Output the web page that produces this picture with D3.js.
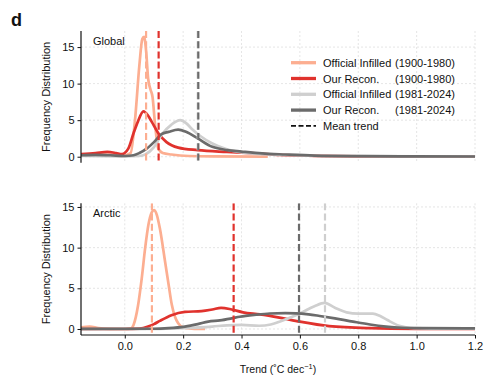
<!DOCTYPE html>
<html>
<head>
<meta charset="utf-8">
<script src="https://cdn.jsdelivr.net/npm/d3@7"></script>
<style>
  body { margin: 0; background: #fff; }
  text { font-family: "Liberation Sans", Arial, sans-serif; fill: #111; }
</style>
</head>
<body>
<div id="chart"></div>
<script>
// ---- data (trend in degC/decade, frequency) ----
const xTicks = [0.0, 0.2, 0.4, 0.6, 0.8, 1.0, 1.2];
const yTicks = [0, 5, 10, 15];

const seriesNames = ["Official Infilled", "Our Recon.", "Official Infilled", "Our Recon."];
const seriesPeriods = ["(1900-1980)", "(1900-1980)", "(1981-2024)", "(1981-2024)"];
const seriesColors = ["#fcae91", "#e0322d", "#cfcfcf", "#6b6b6b"];

// Global panel
const globalOfficialEarly = [[-0.15,0.3],[-0.1,0.3],[-0.05,0.25],[-0.01,0.1],[0.02,0.5],[0.035,5],[0.05,12.5],[0.06,16.1],[0.066,16.4],[0.073,14.5],[0.08,10.7],[0.088,9.2],[0.095,8.2],[0.104,4.3],[0.115,1.1],[0.13,0.5],[0.16,0.3],[0.22,0.1],[0.3,0.05],[0.49,0.02]];
const globalReconEarly = [[-0.15,0.35],[-0.1,0.5],[-0.06,0.65],[-0.03,0.5],[-0.01,0.35],[0.012,1.1],[0.03,3.2],[0.045,4.8],[0.064,6.2],[0.08,5.6],[0.092,4.8],[0.115,3.2],[0.143,2.0],[0.183,1.25],[0.25,0.9],[0.35,0.65],[0.45,0.45],[0.53,0.25],[0.65,0.12],[0.8,0.05],[1.2,0.02]];
const globalOfficialLate = [[-0.15,0.1],[0.0,0.05],[0.05,0.1],[0.07,0.3],[0.1,1.3],[0.126,3.0],[0.16,4.4],[0.19,5.0],[0.21,4.6],[0.23,3.8],[0.26,2.8],[0.3,1.8],[0.35,1.0],[0.4,0.6],[0.5,0.3],[0.7,0.1],[1.0,0.05],[1.2,0.03]];
const globalReconLate = [[-0.15,0.2],[-0.1,0.25],[-0.05,0.2],[0.0,0.1],[0.03,0.2],[0.05,0.5],[0.075,1.1],[0.1,2.0],[0.126,3.1],[0.15,3.4],[0.183,3.7],[0.21,3.4],[0.25,2.5],[0.3,1.35],[0.35,0.9],[0.4,0.7],[0.47,0.45],[0.55,0.3],[0.65,0.15],[0.8,0.08],[1.0,0.05],[1.2,0.03]];
const globalMeans = [0.073, 0.116, 0.25, 0.252];

// Arctic panel
const arcticOfficialEarly = [[-0.15,0.2],[-0.12,0.3],[-0.09,0.1],[-0.05,0.02],[0.0,0.0],[0.02,0.05],[0.03,0.5],[0.045,2.8],[0.058,6.2],[0.07,10.0],[0.081,12.8],[0.092,14.3],[0.1,14.6],[0.11,14.0],[0.12,12.4],[0.138,8.3],[0.15,5.5],[0.161,3.0],[0.172,1.5],[0.183,0.7],[0.2,0.2],[0.23,0.05],[0.275,0.0]];
const arcticReconEarly = [[-0.15,0.0],[0.0,0.0],[0.05,0.05],[0.08,0.3],[0.1,0.6],[0.12,1.0],[0.16,1.7],[0.206,2.1],[0.263,2.2],[0.3,2.4],[0.33,2.6],[0.366,2.4],[0.405,2.05],[0.463,1.8],[0.53,1.4],[0.6,0.9],[0.7,0.35],[0.84,0.1],[1.0,0.02],[1.2,0.0]];
const arcticOfficialLate = [[-0.15,0.0],[0.1,0.0],[0.2,0.1],[0.3,0.3],[0.35,0.45],[0.4,0.5],[0.46,0.4],[0.5,0.55],[0.53,0.9],[0.6,1.9],[0.65,2.8],[0.685,3.2],[0.72,2.6],[0.76,2.05],[0.8,1.9],[0.85,1.9],[0.875,1.6],[0.9,1.1],[0.94,0.4],[0.99,0.1],[1.05,0.05],[1.2,0.05]];
const arcticReconLate = [[-0.15,0.02],[0.1,0.03],[0.15,0.1],[0.206,0.3],[0.25,0.6],[0.286,0.9],[0.326,1.05],[0.366,1.3],[0.394,1.5],[0.45,1.75],[0.497,1.9],[0.55,1.95],[0.587,1.93],[0.63,1.8],[0.668,1.6],[0.72,1.3],[0.782,0.9],[0.84,0.55],[0.895,0.3],[0.95,0.15],[1.01,0.1],[1.2,0.08]];
const arcticMeans = [0.093, 0.373, 0.686, 0.597];

const panels = [
  { name: "Global", series: [globalOfficialEarly, globalReconEarly, globalOfficialLate, globalReconLate],
    means: globalMeans, yDomain: [-0.82, 17.2], top: 31, bottom: 162.7, xAxis: false },
  { name: "Arctic", series: [arcticOfficialEarly, arcticReconEarly, arcticOfficialLate, arcticReconLate],
    means: arcticMeans, yDomain: [-0.74, 15.45], top: 203.3, bottom: 335, xAxis: true }
];

// ---- layout ----
const W = 494, H = 388;
const left = 81, right = 475;
const fs = "11px";

const svg = d3.select("#chart").append("svg")
  .attr("width", W).attr("height", H);

const x = d3.scaleLinear().domain([-0.15, 1.2]).range([left, right]);

svg.append("text").attr("x", 11).attr("y", 26)
  .style("font-size", "18px").style("font-weight", "bold").text("d");

const line = d3.line().curve(d3.curveMonotoneX);

panels.forEach((p, pi) => {
  const y = d3.scaleLinear().domain(p.yDomain).range([p.bottom, p.top]);
  const g = svg.append("g");

  const clipId = "clip" + pi;
  svg.append("clipPath").attr("id", clipId).append("rect")
    .attr("x", left).attr("y", p.top).attr("width", right - left).attr("height", p.bottom - p.top);

  // grid
  g.selectAll(".vgrid").data(xTicks).enter().append("line")
    .attr("x1", d => x(d)).attr("x2", d => x(d))
    .attr("y1", p.top).attr("y2", p.bottom)
    .attr("stroke", "#dedede").attr("stroke-width", 0.8).attr("stroke-dasharray", "2,2");
  g.selectAll(".hgrid").data(yTicks).enter().append("line")
    .attr("x1", left).attr("x2", right)
    .attr("y1", d => y(d)).attr("y2", d => y(d))
    .attr("stroke", "#dedede").attr("stroke-width", 0.8).attr("stroke-dasharray", "2,2");

  // curves
  const cg = g.append("g").attr("clip-path", `url(#${clipId})`);
  p.series.forEach((s, i) => {
    cg.append("path")
      .attr("d", line(s.map(d => [x(d[0]), y(d[1])])))
      .attr("fill", "none")
      .attr("stroke", seriesColors[i])
      .attr("stroke-width", 2.7)
      .attr("stroke-linejoin", "round");
  });

  // mean trend lines (light grey first so dark grey sits on top)
  [2, 0, 1, 3].forEach(i => {
    cg.append("line")
      .attr("x1", x(p.means[i])).attr("x2", x(p.means[i]))
      .attr("y1", p.top).attr("y2", p.bottom)
      .attr("stroke", seriesColors[i]).attr("stroke-width", 2.2)
      .attr("stroke-dasharray", "7,3.2");
  });

  // y axis
  const yAxis = d3.axisLeft(y).tickValues(yTicks).tickSize(3.5).tickPadding(3).tickFormat(d3.format("d"));
  const ya = g.append("g").attr("transform", `translate(${left},0)`).call(yAxis);
  ya.select(".domain").attr("d", `M-0,${p.top}V${p.bottom}`).attr("stroke", "#111").attr("stroke-width", 1.2);
  ya.selectAll("text").style("font-size", fs).style("fill", "#111");
  ya.selectAll(".tick line").attr("stroke", "#111");

  if (p.xAxis) {
    const xAxis = d3.axisBottom(x).tickValues(xTicks).tickSize(3.5).tickPadding(4).tickFormat(d3.format(".1f"));
    const xa = g.append("g").attr("transform", `translate(0,${p.bottom})`).call(xAxis);
    xa.select(".domain").attr("d", `M${left},0H${right}`).attr("stroke", "#111").attr("stroke-width", 1.2);
    xa.selectAll("text").style("font-size", fs).style("fill", "#111");
    xa.selectAll(".tick line").attr("stroke", "#111");
  }

  // y label
  g.append("text")
    .attr("transform", `translate(50,${(p.top + p.bottom) / 2}) rotate(-90)`)
    .attr("text-anchor", "middle").style("font-size", fs)
    .text("Frequency Distribution");

  // panel title
  g.append("text").attr("x", 93).attr("y", p.top + 14)
    .style("font-size", fs).text(p.name);
});

// x axis title
const xt = svg.append("text").attr("x", (left + right) / 2).attr("y", 373)
  .attr("text-anchor", "middle").style("font-size", "10.5px");
xt.append("tspan").text("Trend (\u02DAC dec");
xt.append("tspan").attr("dy", -4).style("font-size", "7.5px").text("\u22121");
xt.append("tspan").attr("dy", 4).text(")");

// legend
const legend = svg.append("g").attr("transform", "translate(291,62.7)");
const rowH = 15.8;
seriesNames.forEach((name, i) => {
  const row = legend.append("g").attr("transform", `translate(0,${i * rowH})`);
  row.append("line").attr("x1", 0).attr("x2", 25).attr("y1", 0).attr("y2", 0)
    .attr("stroke", seriesColors[i]).attr("stroke-width", 3.3);
  row.append("text").attr("x", 32).attr("y", 4).style("font-size", fs).text(name);
  row.append("text").attr("x", 104).attr("y", 4).style("font-size", fs).text(seriesPeriods[i]);
});
const meanRow = legend.append("g").attr("transform", `translate(0,${4 * rowH})`);
meanRow.append("line").attr("x1", 0).attr("x2", 25).attr("y1", 0).attr("y2", 0)
  .attr("stroke", "#111").attr("stroke-width", 1.8).attr("stroke-dasharray", "5,2.5");
meanRow.append("text").attr("x", 32).attr("y", 4).style("font-size", fs).text("Mean trend");
</script>
</body>
</html>
